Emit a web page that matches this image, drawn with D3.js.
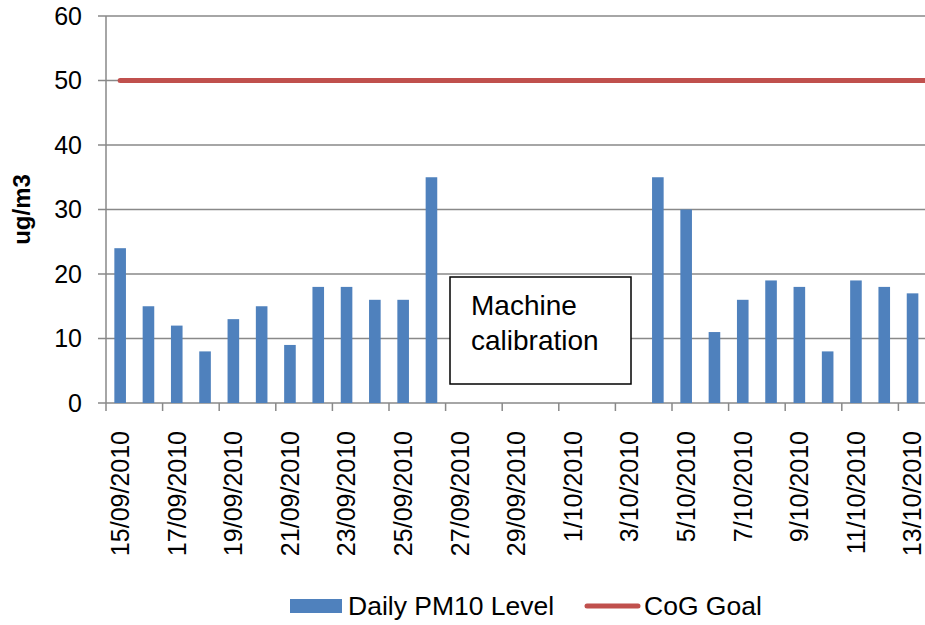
<!DOCTYPE html>
<html>
<head>
<meta charset="utf-8">
<script src="https://cdn.jsdelivr.net/npm/d3@7"></script>
<style>
    body { margin: 0; background: #fff; }
    text { font-family: "Liberation Sans", Arial, sans-serif; fill: #000; }
</style>
</head>
<body>
<div id="chart"></div>
<script>
const dates = [
    "15/09/2010", "16/09/2010", "17/09/2010", "18/09/2010", "19/09/2010", "20/09/2010",
    "21/09/2010", "22/09/2010", "23/09/2010", "24/09/2010", "25/09/2010", "26/09/2010",
    "27/09/2010", "28/09/2010", "29/09/2010", "30/09/2010", "1/10/2010", "2/10/2010",
    "3/10/2010", "4/10/2010", "5/10/2010", "6/10/2010", "7/10/2010", "8/10/2010",
    "9/10/2010", "10/10/2010", "11/10/2010", "12/10/2010", "13/10/2010", "14/10/2010"
]
// no readings while the machine was being calibrated
const pm10 = [24, 15, 12, 8, 13, 15, 9, 18, 18, 16, 16, 35,
    null, null, null, null, null, null, null,
    35, 30, 11, 16, 19, 18, 8, 19, 18, 17, null]
const goal = [50, 50, 50, 50, 50, 50, 50, 50, 50, 50, 50, 50, 50, 50, 50,
    50, 50, 50, 50, 50, 50, 50, 50, 50, 50, 50, 50, 50, 50, 50]
const yTicks = [0, 10, 20, 30, 40, 50, 60]

let width = 925, height = 625
let plotLeft = 106, plotTop = 16, plotBottom = 403
let step = 28.3
let barColor = '#4F81BD', lineColor = '#C0504D', gridColor = '#898989'

let svg = d3.select("#chart").append("svg")
    .attr("width", width)
    .attr("height", height)

let xScale = d3.scaleBand()
    .domain(dates)
    .range([plotLeft, plotLeft + dates.length * step])
    .paddingInner(0.59)
    .paddingOuter(0.295)

let yScale = d3.scaleLinear().domain([0, 60]).range([plotBottom, plotTop])

function center(d) {
    return xScale(d) + xScale.bandwidth() / 2
}

// horizontal gridlines
svg.append("g").selectAll("line")
    .data(yTicks)
    .enter().append("line")
    .attr("x1", plotLeft - 8)
    .attr("x2", plotLeft + dates.length * step)
    .attr("y1", d => yScale(d))
    .attr("y2", d => yScale(d))
    .attr("stroke", gridColor)
    .attr("stroke-width", 1.5)

svg.append("g").selectAll("text")
    .data(yTicks)
    .enter().append("text")
    .attr("x", 82)
    .attr("y", d => yScale(d))
    .attr("dy", "0.35em")
    .attr("text-anchor", "end")
    .style("font-size", "25px")
    .text(d => d)

// y axis line
svg.append("line")
    .attr("x1", plotLeft).attr("x2", plotLeft)
    .attr("y1", plotTop).attr("y2", plotBottom)
    .attr("stroke", gridColor)
    .attr("stroke-width", 1.5)

svg.append("text")
    .attr("transform", "translate(30," + (plotTop + plotBottom) / 2 + ") rotate(-90)")
    .attr("text-anchor", "middle")
    .style("font-size", "24px")
    .style("font-weight", "bold")
    .text("ug/m3")

// bars
svg.append("g").selectAll("rect")
    .data(dates.map((d, i) => ({date: d, value: pm10[i]})).filter(d => d.value !== null))
    .enter().append("rect")
    .attr("x", d => xScale(d.date))
    .attr("y", d => yScale(d.value))
    .attr("width", xScale.bandwidth())
    .attr("height", d => plotBottom - yScale(d.value))
    .style("fill", barColor)

// x axis ticks at every second category boundary
let even = dates.filter((d, i) => i % 2 === 0)
svg.append("g").selectAll("line")
    .data(even)
    .enter().append("line")
    .attr("x1", d => center(d) - step / 2)
    .attr("x2", d => center(d) - step / 2)
    .attr("y1", plotBottom)
    .attr("y2", plotBottom + 8)
    .attr("stroke", gridColor)
    .attr("stroke-width", 1.5)

svg.append("g").selectAll("text")
    .data(even)
    .enter().append("text")
    .attr("transform", d => "translate(" + center(d) + "," + (plotBottom + 28) + ") rotate(-90)")
    .attr("dy", "0.35em")
    .attr("text-anchor", "end")
    .style("font-size", "25px")
    .text(d => d)

// goal line
svg.append("path")
    .datum(dates.map((d, i) => ({date: d, value: goal[i]})))
    .attr("fill", "none")
    .attr("stroke", lineColor)
    .attr("stroke-width", 5)
    .attr("stroke-linecap", "round")
    .attr("d", d3.line()
        .x(d => center(d.date))
        .y(d => yScale(d.value)))

// text box over the gap
let box = svg.append("g")
box.append("rect")
    .attr("x", 450).attr("y", 277)
    .attr("width", 181).attr("height", 107)
    .attr("fill", "#fff")
    .attr("stroke", "#000")
    .attr("stroke-width", 1.5)
box.append("text").attr("x", 471).attr("y", 315)
    .style("font-size", "28px").text("Machine")
box.append("text").attr("x", 471).attr("y", 350)
    .style("font-size", "28px").text("calibration")

// legend
let legend = svg.append("g")
legend.append("rect")
    .attr("x", 290).attr("y", 599)
    .attr("width", 52).attr("height", 14)
    .style("fill", barColor)
legend.append("text").attr("x", 348).attr("y", 615)
    .style("font-size", "26.5px").text("Daily PM10 Level")
legend.append("line")
    .attr("x1", 587).attr("x2", 638)
    .attr("y1", 606).attr("y2", 606)
    .attr("stroke", lineColor)
    .attr("stroke-width", 5)
    .attr("stroke-linecap", "round")
legend.append("text").attr("x", 644).attr("y", 615)
    .style("font-size", "26.5px").text("CoG Goal")
</script>
</body>
</html>
